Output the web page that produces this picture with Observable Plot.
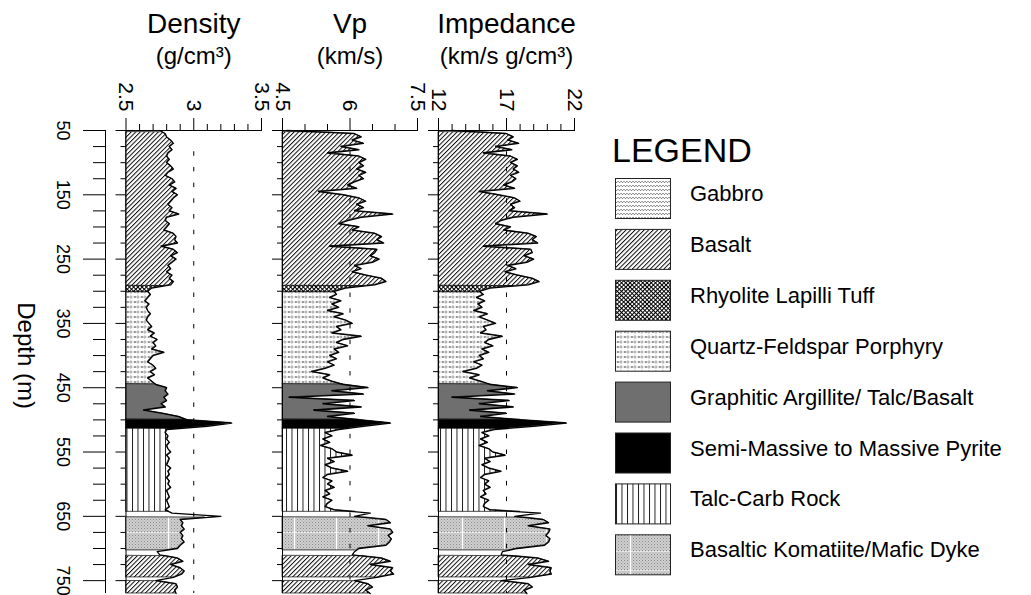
<!DOCTYPE html>
<html>
<head>
<meta charset="utf-8">
<script src="https://cdn.jsdelivr.net/npm/d3@7"></script>
<script src="https://cdn.jsdelivr.net/npm/@observablehq/plot@0.6"></script>
<style>
  html, body { margin: 0; padding: 0; background: #fff; overflow: hidden; }
  #wrap { position: relative; width: 1031px; height: 595px; overflow: hidden; font-family: "Liberation Sans", Arial, sans-serif; }
  #wrap svg { position: absolute; left: 0; top: 0; }
</style>
</head>
<body>
<svg width="0" height="0" style="position:absolute;left:0;top:0">
  <defs>
    <pattern id="pat-gabbro" patternUnits="userSpaceOnUse" width="6" height="4">
      <rect width="6" height="4" fill="#fff"/>
      <path d="M0,1.2 L1.5,2.7 L3,1.2 L4.5,2.7 L6,1.2" fill="none" stroke="#333" stroke-width="0.7"/>
    </pattern>
    <pattern id="pat-basalt" patternUnits="userSpaceOnUse" width="3.2" height="3.2" patternTransform="rotate(45)">
      <rect width="3.2" height="3.2" fill="#fff"/>
      <line x1="0.5" y1="0" x2="0.5" y2="3.2" stroke="#000" stroke-width="0.95"/>
    </pattern>
    <pattern id="pat-rhyolite" patternUnits="userSpaceOnUse" width="3" height="3" patternTransform="rotate(45)">
      <rect width="3" height="3" fill="#fff"/>
      <path d="M0.5,0 V3 M0,0.5 H3" stroke="#000" stroke-width="1"/>
    </pattern>
    <pattern id="pat-qfp" patternUnits="userSpaceOnUse" width="7" height="5">
      <rect width="7" height="5" fill="#fff"/>
      <path d="M0.8,1 L2.8,3 M2.8,1 L0.8,3" stroke="#555" stroke-width="0.7"/>
      <circle cx="4.9" cy="2" r="1.1" fill="none" stroke="#666" stroke-width="0.6"/>
    </pattern>
    <pattern id="pat-talc" patternUnits="userSpaceOnUse" width="5.5" height="10">
      <rect width="5.5" height="10" fill="#fff"/>
      <line x1="0.5" y1="0" x2="0.5" y2="10" stroke="#000" stroke-width="0.9"/>
    </pattern>
    <pattern id="pat-kom-dots" patternUnits="userSpaceOnUse" width="3" height="3">
      <rect width="3" height="3" fill="#cfcfcf"/>
      <rect width="1" height="1" fill="#8a8a8a"/>
      <rect x="1.5" y="1.5" width="1" height="1" fill="#a5a5a5"/>
    </pattern>
    <pattern id="pat-kom" patternUnits="userSpaceOnUse" width="42" height="19">
      <rect width="42" height="19" fill="url(#pat-kom-dots)"/>
      <line x1="0.5" y1="0" x2="0.5" y2="19" stroke="#fff" stroke-width="1.2"/>
      <line x1="0" y1="0.5" x2="42" y2="0.5" stroke="#fff" stroke-width="0.6"/>
    </pattern>
  </defs>
</svg>
<div id="wrap"></div>
<script>
// ---------------- data ----------------
const depthStart = 50;   // m, first sample
const depthStep = 5;     // m, sample spacing

const density = [
  2.75,2.79,2.80,2.83,2.85,2.82,2.84,2.81,2.80,2.82,
  2.80,2.83,2.85,2.81,2.79,2.84,2.86,2.82,2.87,2.84,
  2.88,2.85,2.83,2.81,2.84,2.82,2.89,2.80,2.79,2.82,
  2.80,2.78,2.85,2.87,2.86,2.88,2.76,2.85,2.88,2.83,
  2.87,2.84,2.81,2.83,2.80,2.84,2.82,2.85,2.83,2.69,
  2.66,2.68,2.66,2.64,2.67,2.65,2.66,2.68,2.66,2.65,
  2.67,2.69,2.66,2.71,2.68,2.73,2.70,2.72,2.69,2.78,
  2.70,2.68,2.66,2.70,2.72,2.68,2.71,2.66,2.69,2.72,
  2.80,2.79,2.81,2.78,2.80,2.76,2.79,2.63,2.77,2.89,
  2.95,3.28,3.10,2.80,2.79,2.81,2.80,2.82,2.80,2.81,
  2.83,2.80,2.82,2.81,2.80,2.83,2.81,2.82,2.80,2.82,
  2.81,2.83,2.80,2.81,2.82,2.80,2.81,2.82,2.79,2.84,
  3.20,2.90,2.92,2.91,2.93,2.90,2.92,2.91,2.93,2.90,
  2.88,2.73,2.75,2.88,2.92,2.83,2.90,2.93,2.91,2.85,
  2.72,2.87,2.88,2.86,2.87
];

const vp = [
  4.60,6.10,6.25,6.05,6.30,5.80,6.20,5.50,6.20,6.35,
  6.20,6.30,6.15,6.35,6.20,6.30,6.10,5.95,6.15,5.30,
  5.85,6.20,6.35,6.15,6.30,6.10,6.95,6.25,5.95,5.75,
  6.20,6.05,6.55,6.70,6.60,6.75,5.55,6.60,6.55,6.45,
  6.65,6.50,6.10,6.25,6.05,6.35,6.70,6.80,6.55,5.90,
  5.65,5.70,5.55,5.80,5.60,5.75,5.50,5.85,5.65,5.90,
  6.05,5.70,5.80,5.60,6.25,5.85,5.70,5.95,5.65,5.75,
  5.55,5.70,5.50,5.65,5.45,5.15,5.55,5.40,5.60,5.85,
  6.40,5.60,6.30,4.65,6.10,5.40,6.25,5.20,6.10,5.50,
  6.20,6.90,6.30,5.75,5.45,5.60,5.40,5.55,5.35,5.60,
  5.70,6.05,5.50,5.65,5.45,5.60,5.95,5.50,5.40,5.60,
  5.50,5.65,5.45,5.55,5.40,5.60,5.50,5.45,5.65,6.45,
  6.10,6.80,6.90,6.40,6.90,6.95,6.85,6.92,6.88,6.80,
  6.20,6.10,6.05,6.70,6.90,6.45,6.95,6.90,6.97,6.60,
  6.10,6.40,6.50,6.35,6.45
];

const impedance = [
  13.0,17.0,17.5,17.1,17.9,16.2,17.4,15.3,17.3,17.8,
  17.3,17.8,17.5,17.9,17.3,17.7,17.4,16.8,17.6,15.0,
  16.4,17.6,18.0,17.3,17.6,17.2,20.0,17.5,16.6,16.2,
  17.3,16.8,18.6,19.2,18.9,19.3,15.3,18.8,18.9,18.3,
  19.0,18.5,17.1,17.7,16.9,17.8,18.9,19.4,18.6,15.8,
  15.0,15.3,14.8,15.4,14.9,15.2,14.6,15.6,15.0,15.6,
  16.2,15.3,15.5,15.1,16.7,15.7,15.4,16.0,15.2,15.7,
  15.0,15.3,14.6,15.2,14.8,13.8,15.0,14.3,15.1,15.8,
  17.8,15.6,17.6,13.0,17.2,15.0,17.5,14.3,17.0,15.1,
  18.0,21.4,19.0,16.1,15.2,15.7,15.1,15.6,15.0,15.7,
  16.0,16.9,15.4,15.8,15.2,15.7,16.6,15.4,15.1,15.7,
  15.4,15.8,15.3,15.5,15.1,15.7,15.4,15.3,15.8,19.5,
  17.6,19.7,20.1,18.6,20.2,20.1,19.9,20.2,20.1,19.8,
  17.8,16.7,16.6,19.3,20.1,18.6,20.3,20.2,20.3,18.8,
  16.6,18.6,18.9,18.3,18.5
];

// lithology intervals (m)
const lithTop    = [53, 292, 302, 445, 500, 514, 652, 712, 751];
const lithBottom = [292, 302, 445, 500, 514, 643, 703, 745, 770];
const lithType   = ["Basalt", "Rhyolite Lapilli Tuff", "Quartz-Feldspar Porphyry",
  "Graphitic Argillite/ Talc/Basalt", "Semi-Massive to Massive Pyrite", "Talc-Carb Rock",
  "Basaltic Komatiite/Mafic Dyke", "Basalt", "Basalt"];

const legendNames = ["Gabbro", "Basalt", "Rhyolite Lapilli Tuff", "Quartz-Feldspar Porphyry",
  "Graphitic Argillite/ Talc/Basalt", "Semi-Massive to Massive Pyrite", "Talc-Carb Rock",
  "Basaltic Komatiite/Mafic Dyke"];
const legendFills = ["url(#pat-gabbro)", "url(#pat-basalt)", "url(#pat-rhyolite)", "url(#pat-qfp)",
  "#6f6f6f", "#000000", "url(#pat-talc)", "url(#pat-kom)"];

const depthDomain = [50, 770];
const depthMajor = [50, 150, 250, 350, 450, 550, 650, 750];
const depthMinor = [75, 100, 125, 175, 200, 225, 275, 300, 325, 375, 400, 425, 475, 500, 525, 575, 600, 625, 675, 700, 725];

const panelTitles = ["Density", "Vp", "Impedance"];
const panelUnits = ["(g/cm³)", "(km/s)", "(km/s g/cm³)"];
const densityTicks = [2.5, 2.6, 2.7, 2.8, 2.9, 3.0, 3.1, 3.2, 3.3, 3.4, 3.5];
const densityLabels = [2.5, 3, 3.5];
const vpTicks = [4.5, 5, 5.5, 6, 6.5, 7, 7.5];
const vpLabels = [4.5, 6, 7.5];
const impTicks = [12, 13, 14, 15, 16, 17, 18, 19, 20, 21, 22];
const impLabels = [12, 17, 22];
const refValues = [3, 6, 17];

// ---------------- drawing ----------------
const W = 1031, H = 595, TOP = 130, BOTTOM = 2;
const FONT = "'Liberation Sans', Arial, Helvetica, sans-serif";
const wrap = document.getElementById("wrap");

const fillOf = Object.fromEntries(legendNames.map((n, i) => [n, legendFills[i]]));

function samples(values) {
  return values.map((v, i) => ({d: depthStart + i * depthStep, v}));
}
function valueAt(values, d) {
  const t = (d - depthStart) / depthStep;
  const i = Math.max(0, Math.min(Math.floor(t), values.length - 2));
  const f = t - i;
  return values[i] * (1 - f) + values[i + 1] * f;
}
function segment(values, top, bottom) {
  const pts = [{d: top, v: valueAt(values, top)}];
  samples(values).forEach(p => { if (p.d > top && p.d < bottom) pts.push(p); });
  pts.push({d: bottom, v: valueAt(values, bottom)});
  return pts;
}

const panels = [
  {values: density, domain: [2.5, 3.5], ticks: densityTicks, labels: densityLabels, x0: 125.5, x1: 261},
  {values: vp, domain: [4.5, 7.5], ticks: vpTicks, labels: vpLabels, x0: 282, x1: 417},
  {values: impedance, domain: [12, 22], ticks: impTicks, labels: impLabels, x0: 438, x1: 574}
];

panels.forEach((p, k) => {
  const xmin = p.domain[0];
  const majors = p.ticks.filter(t => p.labels.includes(t));
  const minors = p.ticks.filter(t => !p.labels.includes(t));
  const marks = [];
  lithTop.forEach((top, i) => {
    marks.push(Plot.areaX(segment(p.values, top, lithBottom[i]), {
      y: "d", x1: xmin, x2: "v", fill: fillOf[lithType[i]], stroke: "#000", strokeWidth: 0.7
    }));
  });
  marks.push(Plot.lineX(samples(p.values), {x: "v", y: "d", stroke: "#000", strokeWidth: 1.3}));
  marks.push(Plot.ruleX([refValues[k]], {y1: 83, y2: 770, stroke: "#000", strokeWidth: 1, strokeDasharray: "4.5,11.2"}));
  marks.push(Plot.ruleX([xmin], {stroke: "#000", strokeWidth: 1}));
  marks.push(Plot.ruleY([50], {stroke: "#000", strokeWidth: 1}));
  marks.push(Plot.axisX({anchor: "top", ticks: majors, tickSize: 13, tickFormat: () => "", label: null}));
  marks.push(Plot.axisX({anchor: "top", ticks: minors, tickSize: 7, tickFormat: () => "", label: null}));
  marks.push(Plot.axisY({anchor: "left", ticks: depthMajor, tickSize: 10, tickFormat: () => "", label: null}));
  marks.push(Plot.axisY({anchor: "left", ticks: depthMinor, tickSize: 5, tickFormat: () => "", label: null}));
  marks.push(Plot.text(p.labels, {x: d => d, text: d => String(d), frameAnchor: "top", dy: -19, rotate: 90,
    textAnchor: "end", lineAnchor: "middle", fontSize: 21}));
  marks.push(Plot.text([panelTitles[k]], {frameAnchor: "top", dy: -106, fontSize: 28, lineAnchor: "middle"}));
  marks.push(Plot.text([panelUnits[k]], {frameAnchor: "top", dy: -74, fontSize: 24, lineAnchor: "middle"}));

  const svg = Plot.plot({
    width: W, height: H,
    marginLeft: p.x0, marginRight: W - p.x1, marginTop: TOP, marginBottom: BOTTOM,
    x: {domain: p.domain, label: null},
    y: {domain: depthDomain, reverse: true, label: null},
    style: {background: "transparent", fontFamily: FONT, overflow: "visible"},
    marks
  });
  wrap.appendChild(svg);
});

// depth axis
{
  const svg = Plot.plot({
    width: W, height: H,
    marginLeft: 105, marginRight: W - 106, marginTop: TOP, marginBottom: BOTTOM,
    x: {domain: [0, 1], axis: null},
    y: {domain: depthDomain, reverse: true, label: null},
    style: {background: "transparent", fontFamily: FONT, overflow: "visible"},
    marks: [
      Plot.ruleX([0], {stroke: "#000", strokeWidth: 1}),
      Plot.axisY({anchor: "left", ticks: depthMajor, tickSize: 22, tickFormat: () => "", label: null}),
      Plot.axisY({anchor: "left", ticks: depthMinor, tickSize: 12, tickFormat: () => "", label: null}),
      Plot.text(depthMajor, {y: d => d, frameAnchor: "left", dx: -42.5, rotate: 90, textAnchor: "middle",
        lineAnchor: "middle", fontSize: 18}),
      Plot.text(["Depth (m)"], {y: () => 400, frameAnchor: "left", dx: -80, rotate: 90, textAnchor: "middle",
        lineAnchor: "middle", fontSize: 24})
    ]
  });
  wrap.appendChild(svg);
}

// legend
{
  const lg = d3.select(wrap).append("svg").attr("width", W).attr("height", H)
    .style("font-family", FONT);
  lg.append("text").attr("x", 612).attr("y", 162.3).attr("font-size", 34).attr("fill", "#000").text("LEGEND");
  legendNames.forEach((n, i) => {
    const y = 178.5 + i * 50.9;
    lg.append("rect").attr("x", 615.5).attr("y", y).attr("width", 55).attr("height", 40)
      .attr("fill", legendFills[i]).attr("stroke", "#222").attr("stroke-width", 1);
    lg.append("text").attr("x", 690).attr("y", y + 22.5).attr("font-size", 22).attr("fill", "#000").text(n);
  });
}
</script>
</body>
</html>
